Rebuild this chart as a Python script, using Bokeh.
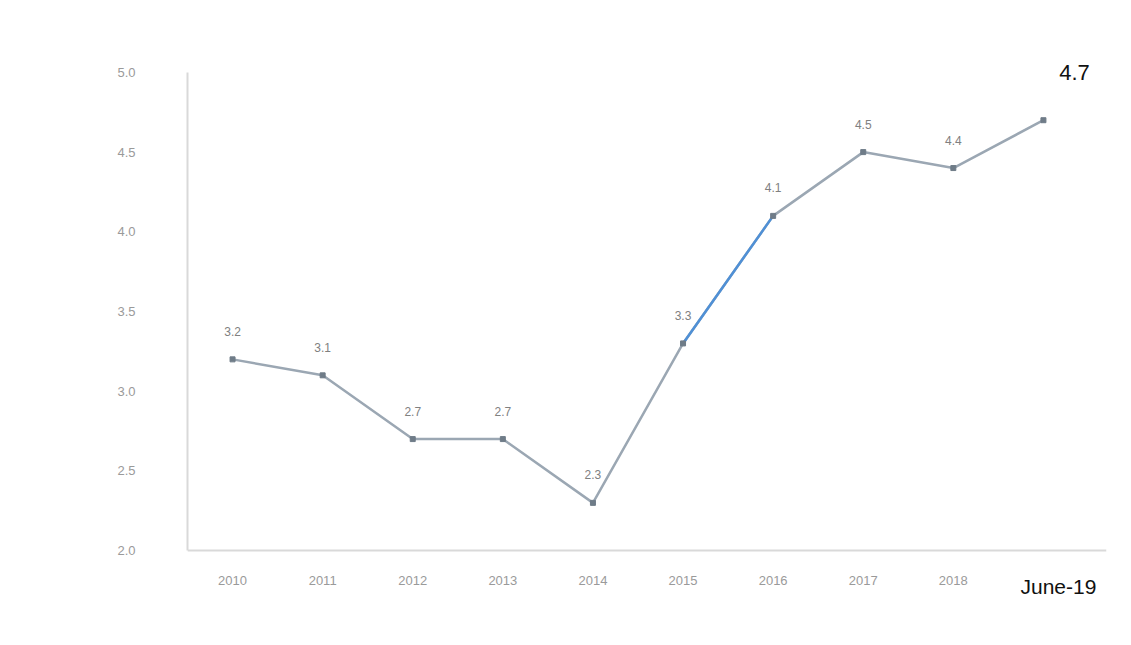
from bokeh.plotting import figure
from bokeh.models import Range1d, FixedTicker, NumeralTickFormatter, ColumnDataSource
from bokeh.core.properties import value
from bokeh.embed import file_html
from bokeh.resources import INLINE

categories = ["2010", "2011", "2012", "2013", "2014", "2015", "2016", "2017", "2018", "June-19"]
values = [3.2, 3.1, 2.7, 2.7, 2.3, 3.3, 4.1, 4.5, 4.4, 4.7]
y_ticks = [2.0, 2.5, 3.0, 3.5, 4.0, 4.5, 5.0]

labels = [f"{v:.1f}" for v in values]
pos = list(range(len(categories)))   # category slots on the x axis

p = figure(
    frame_width=919, frame_height=566,
    x_range=Range1d(-0.5, len(categories) - 0.3),
    y_range=Range1d(1.65, 5.2),
    output_backend="svg", toolbar_location=None,
    min_border_left=187, min_border_right=25, min_border_top=40, min_border_bottom=0,
)
p.outline_line_color = None
p.xgrid.visible = False
p.ygrid.visible = False
p.background_fill_color = "white"
p.border_fill_color = "white"

# y axis: line only between the first and last tick
p.yaxis.ticker = FixedTicker(ticks=y_ticks)
p.yaxis.bounds = (y_ticks[0], y_ticks[-1])
p.yaxis.formatter = NumeralTickFormatter(format="0.0")
p.yaxis.axis_line_color = "#d9d9d9"
p.yaxis.axis_line_width = 2
p.yaxis.major_tick_line_color = None
p.yaxis.minor_tick_line_color = None
p.yaxis.major_label_standoff = 46
p.yaxis.major_label_text_color = "#9a9a9a"
p.yaxis.major_label_text_font = "Liberation Sans"
p.yaxis.major_label_text_font_size = "13px"

# x axis sits on the y = 2.0 line, category names as tick labels
p.xaxis.fixed_location = y_ticks[0]
p.xaxis.ticker = FixedTicker(ticks=pos)
p.xaxis.major_label_overrides = {i: (c if i < len(categories) - 1 else " ") for i, c in zip(pos, categories)}
p.xaxis.axis_line_color = "#d9d9d9"
p.xaxis.axis_line_width = 2
p.xaxis.major_tick_line_color = None
p.xaxis.minor_tick_line_color = None
p.xaxis.major_label_standoff = 16
p.xaxis.major_label_text_color = "#9a9a9a"
p.xaxis.major_label_text_font = "Liberation Sans"
p.xaxis.major_label_text_font_size = "13px"

src = ColumnDataSource(dict(x=pos, y=values, lab=labels))
src_main = ColumnDataSource(dict(x=pos[:-1], y=values[:-1], lab=labels[:-1]))
src_last = ColumnDataSource(dict(x=pos[-1:], y=values[-1:], lab=labels[-1:],
                                 base=[y_ticks[0]], cat=categories[-1:]))

p.line("x", "y", source=src, line_color="#9ba7b3", line_width=2.5)
p.line(pos[5:7], values[5:7], line_color="#4f90d6", line_width=2.5)
p.scatter("x", "y", source=src, marker="square", size=5, fill_color="#6f7c88", line_color="#6f7c88")

p.text("x", "y", text="lab", source=src_main, text_align="center", text_baseline="middle",
       y_offset=-28, text_color="#808080", text_font=value("Liberation Sans"),
       text_font_size="12px")

p.text("x", "y", text="lab", source=src_last, text_align="center", text_baseline="middle",
       x_offset=31, y_offset=-48, text_color="#111111", text_font=value("Liberation Sans"),
       text_font_size="22px")
p.text("x", "base", text="cat", source=src_last, text_align="center", text_baseline="middle",
       x_offset=15, y_offset=36, text_color="#111111", text_font=value("Liberation Sans"),
       text_font_size="21px")

open("out.html", "w").write(file_html(p, INLINE))
